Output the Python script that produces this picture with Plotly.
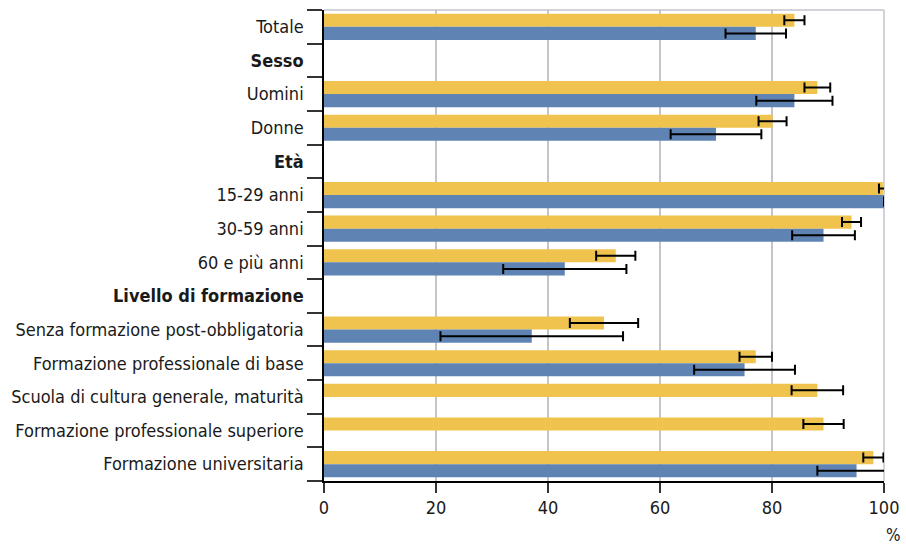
import plotly.graph_objects as go

categories = ["Totale", "<b>Sesso</b>", "Uomini", "Donne", "<b>Età</b>",
              "15-29 anni", "30-59 anni", "60 e più anni", "<b>Livello di formazione</b>",
              "Senza formazione post-obbligatoria", "Formazione professionale di base",
              "Scuola di cultura generale, maturità", "Formazione professionale superiore",
              "Formazione universitaria"]

yellow_vals = [84.0, None, 88.1, 80.1, None, 99.8, 94.2, 52.1, None, 50.0, 77.1, 88.1, 89.2, 98.1]
yellow_err = [1.8, None, 2.3, 2.5, None, 0.7, 1.7, 3.5, None, 6.1, 2.9, 4.6, 3.6, 1.8]
blue_vals = [77.1, None, 84.0, 70.0, None, 100.0, 89.2, 43.0, None, 37.1, 75.1, None, None, 95.1]
blue_err = [5.4, None, 6.8, 8.1, None, 0, 5.6, 11.0, None, 16.3, 9.0, None, None, 7.0]

x_ticks = [0, 20, 40, 60, 80, 100]

FONT = "DejaVu Sans Condensed, Liberation Sans Narrow, sans-serif"

n = len(categories)
y_pos = list(range(n))
boundaries = [i - 0.5 for i in range(n + 1)]

fig = go.Figure()
fig.add_trace(go.Bar(
    y=y_pos, x=yellow_vals, orientation="h", name="A",
    marker=dict(color="#EFC34D", line=dict(width=0)),
    error_x=dict(type="data", array=yellow_err, visible=True, color="black", thickness=2, width=5),
))
fig.add_trace(go.Bar(
    y=y_pos, x=blue_vals, orientation="h", name="B",
    marker=dict(color="#5F84B3", line=dict(width=0)),
    error_x=dict(type="data", array=blue_err, visible=True, color="black", thickness=2, width=5),
))

fig.update_layout(
    width=906, height=544,
    margin=dict(l=324, r=22, t=10, b=63),
    paper_bgcolor="white", plot_bgcolor="white",
    barmode="group", bargap=0.22, bargroupgap=0,
    showlegend=False,
    font=dict(family=FONT, size=18, color="#1a1a1a"),
    xaxis=dict(range=[0, 100], tickvals=x_ticks, showgrid=True, gridcolor="#C3C4CC", gridwidth=1.5,
               showline=True, linecolor="black", linewidth=1.5, ticks="outside", ticklen=10,
               tickcolor="#333333", tickwidth=1.5, zeroline=False, fixedrange=True, automargin=False),
    yaxis=dict(range=[n - 0.5, -0.5], tickvals=y_pos, ticktext=categories, ticks="",
               showline=True, linecolor="black", linewidth=1.5, ticklabelstandoff=15,
               showgrid=False, zeroline=False, fixedrange=True, automargin=False,
               minor=dict(tickvals=boundaries, ticks="outside", ticklen=15, tickcolor="#333333",
                          tickwidth=1.5, showgrid=False)),
    shapes=[dict(type="line", xref="paper", yref="paper", x0=0, x1=1, y0=1, y1=1,
                 line=dict(color="#C3C4CC", width=1.5), layer="below"),
            dict(type="line", xref="paper", yref="paper", x0=1, x1=1, y0=0, y1=1,
                 line=dict(color="#C3C4CC", width=1.5), layer="below")],
    annotations=[dict(text="%", xref="paper", yref="paper", x=1.0, y=-0.14, xanchor="left",
                      yanchor="bottom", showarrow=False, font=dict(size=17, family=FONT, color="#1a1a1a"))],
)

fig.write_html("out.html", config={"displayModeBar": False},
               post_script="document.body.style.margin='0px';")
